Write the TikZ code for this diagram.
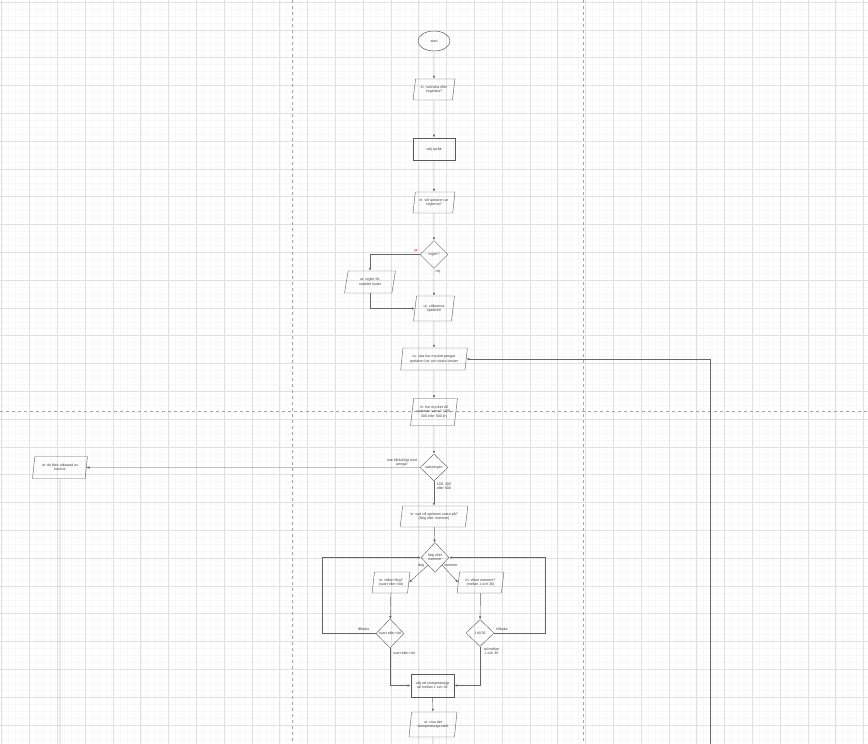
\documentclass[tikz,border=0pt]{standalone}
\usepackage{fontspec}
\setmainfont{Liberation Sans}
\usetikzlibrary{arrows.meta,shapes.geometric}

\begin{document}
\begin{tikzpicture}[x=1pt,y=-1pt,
    txt/.style={font=\fontsize{3.6}{4.4}\selectfont, text=black!75, align=center, inner sep=0.5pt},
    io/.style={txt, draw=black!60, line width=0.45pt, trapezium, trapezium left angle=78, trapezium right angle=102, trapezium stretches=true},
    proc/.style={txt, draw=black!65, line width=0.8pt, minimum width=42pt, minimum height=22pt},
    term/.style={txt, draw=black!70, line width=0.45pt, ellipse, minimum width=32pt, minimum height=20pt, inner sep=0pt},
    dia/.style={draw=black!60, line width=0.45pt, diamond, minimum width=28pt, minimum height=28pt, inner sep=0pt},
    arr/.style={-{Latex[length=3pt,width=2.4pt]}, draw=black!60, line width=0.45pt},
    wire/.style={draw=black!60, line width=0.45pt},
    pagebreak/.style={draw=black!35, line width=0.4pt, dash pattern=on 3pt off 3pt}]
                    \useasboundingbox (0,0) rectangle (868,744);
                    \fill[white] (0,0) rectangle (868,744);
                    \begin{scope}[shift={(1.7,2)}]
                    \draw[black!3, line width=0.4pt, step=6.95pt] (-1.7,-2) grid (866.3,742);
                    \draw[black!12, line width=0.5pt, step=27.8pt] (-1.7,-2) grid (866.3,742);
                    \end{scope}
                    \draw[pagebreak] (292,0) -- (292,744);
                    \draw[pagebreak] (583,0) -- (583,744);
                    \draw[pagebreak] (0,411) -- (868,411);
                    \node[term] (start) at (434,41) {start};
                    \node[io, minimum width=42pt, minimum height=21pt] (lang) at (434,89.5) {in: svenska eller\\engelska?};
                    \node[proc] (choose) at (434,149) {välj språk};
                    \node[io, minimum width=42pt, minimum height=21pt] (regq) at (434,202.5) {in: vill spelaren se\\reglerna?};
                    \node[dia] (regd) at (434,254.5) {};
                    \node[txt] (regt) at (regd) {regler?};
                    \node[txt, text=red!75!black] (ja) at (416,250.5) {ja};
                    \node[txt] (nej) at (438,272) {nej};
                    \node[io, minimum width=51pt, minimum height=22pt] (regl) at (370,282) {ut: regler för\\roulette hjulet};
                    \node[io, minimum width=41pt, minimum height=25pt] (welc) at (434,308.5) {ut: välkomna\\spelaren};
                    \node[io, minimum width=67pt, minimum height=22pt] (visa) at (434,359) {ut: visa hur mycket pengar\\spelaren har och totala vinster};
                    \node[io, minimum width=47pt, minimum height=27pt] (bet) at (434,412) {in: hur mycket vill\\spelaren satsa? (100,\\300 eller 500 kr)};
                    \node[dia, minimum height=27pt] (satsd) at (434,467.5) {};
                    \node[txt] (satst) at (satsd) {satsningen};
                    \node[txt] (poor) at (402,462.5) {inte tillräckligt med\\pengar};
                    \node[txt] (okbet) at (444,486.5) {100, 300\\eller 500};
                    \node[io, minimum width=55pt, minimum height=22pt] (kas) at (60,467.5) {ut: du blev utkastad av\\kasinot};
                    \node[io, minimum width=68pt, minimum height=21pt] (what) at (434,516.5) {in: vad vill spelaren satsa på?\\(färg eller nummer)};
                    \node[dia, minimum height=30pt] (fon) at (435,557.5) {};
                    \node[txt] (font) at (fon) {färg eller\\nummer};
                    \node[txt] (flab) at (421,566) {färg};
                    \node[txt] (nlab) at (451,566) {nummer};
                    \node[io, minimum width=38pt, minimum height=21pt] (colq) at (391,582.5) {in: vilken färg?\\(svart eller röd)};
                    \node[io, minimum width=47pt, minimum height=21pt] (numq) at (480.5,582.5) {in: vilket nummer?\\(mellan 1 och 36)};
                    \node[dia, minimum height=29pt] (svr) at (390,633.5) {};
                    \node[txt] (svrt) at (svr) {svart eller röd};
                    \node[dia, minimum height=27pt] (tal) at (480,633) {};
                    \node[txt] (talt) at (tal) {1 till 36};
                    \node[txt] (backl) at (363.5,629) {tillbaka};
                    \node[txt] (backr) at (502,629) {tillbaka};
                    \node[txt] (svrok) at (404,653) {svart eller röd};
                    \node[txt] (talok) at (491.5,651) {tal mellan\\1 och 36};
                    \node[proc, minimum width=43pt, minimum height=23pt] (slump) at (432.5,685.5) {välj ett slumpmässigt\\tal mellan 1 och 36};
                    \node[io, minimum width=48pt, minimum height=25pt] (show) at (433,724.5) {ut: visa det\\slumpmässiga talet};
                    \coordinate (lc) at (322,557.5);
                    \coordinate (rc) at (545,557.5);
                    \coordinate (rb) at (710,744);
                    \coordinate (lb) at (60,744);
                    \coordinate (ub) at (433,744);
                    \draw[arr] (start) -- (lang);
                    \draw[arr] (lang) -- (choose);
                    \draw[arr] (choose) -- (regq);
                    \draw[arr] (regq) -- (regd);
                    \draw[arr] (regd.west) -| (regl.north);
                    \draw[arr] (regd.south) -- (welc.north);
                    \draw[arr] (regl.south) |- (welc.west);
                    \draw[arr] (welc) -- (visa);
                    \draw[arr] (visa) -- (bet);
                    \draw[arr] (bet) -- (satsd);
                    \draw[arr] (satsd.west) -- (kas.east);
                    \draw[arr] (satsd) -- (what);
                    \draw[arr] (what) -- (fon);
                    \draw[arr] (fon.south west) -- (colq.east);
                    \draw[arr] (fon.south east) -- (numq.west);
                    \draw[arr] (colq) -- (svr);
                    \draw[arr] (numq) -- (tal);
                    \draw[arr] (svr.west) -| (lc) -- (fon.west);
                    \draw[arr] (tal.east) -| (rc) -- (fon.east);
                    \draw[arr] (svr.south) |- (slump.west);
                    \draw[arr] (tal.south) |- (slump.east);
                    \draw[arr] (slump) -- (show);
                    \draw[wire] (show) -- (ub);
                    \draw[wire] (kas) -- (lb);
                    \draw[arr] (rb) |- (visa.east);
                \end{tikzpicture}
\end{document}
